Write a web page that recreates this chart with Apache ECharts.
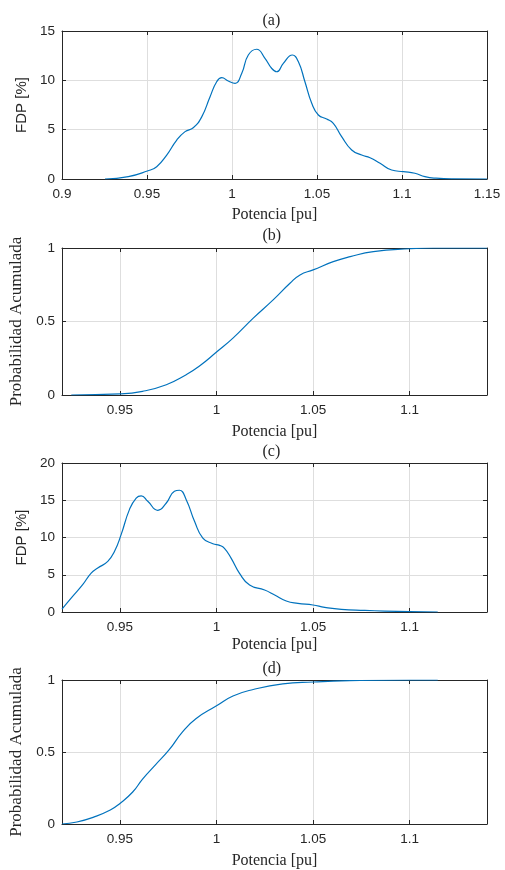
<!DOCTYPE html>
<html>
<head>
<meta charset="utf-8">
<script src="https://cdn.jsdelivr.net/npm/echarts@6/dist/echarts.min.js"></script>
<style>html,body{margin:0;padding:0;background:#fff}#c{width:505px;height:870px}</style>
</head>
<body>
<div id="c"></div>
<script>
// ---- Data ----
const pdfA_x = [0.9253, 0.939, 0.9502, 0.9557, 0.9616, 0.9675, 0.9724, 0.9772, 0.9822, 0.9871, 0.991, 0.994, 0.9978, 1.0018, 1.0057, 1.0096, 1.0145, 1.0194, 1.0234, 1.0263, 1.0302, 1.0355, 1.039, 1.0429, 1.0469, 1.0508, 1.0557, 1.0596, 1.0645, 1.0704, 1.0763, 1.0812, 1.0871, 1.0939, 1.1008, 1.1076, 1.1135, 1.12, 1.13, 1.15];
const pdfA_y = [0, 0.24, 0.81, 1.25, 2.43, 3.95, 4.8, 5.2, 6.3, 8.34, 9.86, 10.27, 9.93, 9.7, 10.7, 12.57, 13.15, 12.23, 11.2, 10.87, 11.72, 12.57, 11.9, 9.86, 7.67, 6.49, 6.08, 5.64, 4.29, 2.94, 2.43, 2.16, 1.59, 0.91, 0.74, 0.58, 0.24, 0.08, 0.01, 0];

const cdfB_x = [0.9248, 0.95, 0.9617, 0.974, 0.9843, 0.991, 1.0, 1.0085, 1.019, 1.0293, 1.038, 1.0432, 1.05, 1.0604, 1.0692, 1.0812, 1.1, 1.112, 1.14];
const cdfB_y = [0, 0.007, 0.025, 0.07, 0.138, 0.195, 0.292, 0.387, 0.523, 0.647, 0.76, 0.817, 0.851, 0.907, 0.941, 0.975, 0.995, 1.0, 1.0];

const pdfC_x = [0.92, 0.9255, 0.9307, 0.9351, 0.9385, 0.9437, 0.9472, 0.9506, 0.9549, 0.9584, 0.961, 0.9644, 0.9696, 0.974, 0.9782, 0.9808, 0.9843, 0.9886, 0.9929, 0.9981, 1.0016, 1.0041, 1.0076, 1.0119, 1.0171, 1.0249, 1.0301, 1.0361, 1.0421, 1.0499, 1.056, 1.0646, 1.0767, 1.087, 1.1, 1.1145];
const pdfC_y = [0.4, 2.1, 3.67, 5.23, 5.9, 6.8, 8.15, 10.38, 13.74, 15.3, 15.6, 14.86, 13.65, 14.63, 16.2, 16.34, 15.08, 12.18, 9.93, 9.17, 8.95, 8.55, 7.2, 5.19, 3.62, 2.95, 2.28, 1.48, 1.16, 0.94, 0.63, 0.36, 0.22, 0.13, 0.05, 0.0];

const cdfD_x = [0.92, 0.9277, 0.9364, 0.945, 0.95, 0.9566, 0.9617, 0.9686, 0.9755, 0.9824, 0.9893, 1.0, 1.0085, 1.019, 1.0343, 1.05, 1.069, 1.1, 1.1145];
const cdfD_y = [0, 0.014, 0.048, 0.097, 0.143, 0.222, 0.312, 0.414, 0.516, 0.64, 0.731, 0.821, 0.889, 0.934, 0.973, 0.986, 0.995, 1.0, 1.0];

const xTicksA = [0.9, 0.95, 1, 1.05, 1.1, 1.15];
const xTicksB = [0.95, 1, 1.05, 1.1];
const yTicksPdfA = [0, 5, 10, 15];
const yTicksPdfC = [0, 5, 10, 15, 20];
const yTicksCdf = [0, 0.5, 1];
const titles = ['(a)', '(b)', '(c)', '(d)'];
const xName = 'Potencia [pu]';
const yNamePdf = 'FDP [%]';
const yNameCdf = 'Probabilidad Acumulada';

// ---- Layout ----
const panels = [
  {top: 31, height: 148, xmin: 0.9, xmax: 1.15, xt: xTicksA, ymin: 0, ymax: 15, yt: yTicksPdfA, yName: yNamePdf, ySerif: false, xs: pdfA_x, ys: pdfA_y, xGap: 28, tOff: 18},
  {top: 248, height: 147, xmin: 0.92, xmax: 1.14, xt: xTicksB, ymin: 0, ymax: 1, yt: yTicksCdf, yName: yNameCdf, ySerif: true, xs: cdfB_x, ys: cdfB_y, xGap: 29, tOff: 20},
  {top: 463, height: 149, xmin: 0.92, xmax: 1.14, xt: xTicksB, ymin: 0, ymax: 20, yt: yTicksPdfC, yName: yNamePdf, ySerif: false, xs: pdfC_x, ys: pdfC_y, xGap: 25, tOff: 19},
  {top: 680, height: 148, xmin: 0.92, xmax: 1.14, xt: xTicksB, ymin: 0, ymax: 1, yt: yTicksCdf, yName: yNameCdf, ySerif: true, xs: cdfD_x, ys: cdfD_y, xGap: 29, tOff: 19}
];

const AX = '#262626';
const GRIDC = '#dedede';
const SANS = 'Liberation Sans, Arial, sans-serif';
const SERIF = 'Liberation Serif, Times New Roman, serif';
const fmt = v => String(+(+v).toFixed(2));

const grid = [], xAxis = [], yAxis = [], series = [], graphic = [];
panels.forEach((p, i) => {
  grid.push({left: 62, right: 18, top: p.top, height: p.height, containLabel: false});
  const baseX = {
    type: 'value', gridIndex: i, min: p.xmin, max: p.xmax,
    axisLine: {show: true, onZero: false, lineStyle: {color: AX, width: 1}},
    axisTick: {show: true, inside: true, length: 4, customValues: p.xt, lineStyle: {color: AX}},
  };
  xAxis.push(Object.assign({}, baseX, {
    position: 'bottom',
    axisLabel: {show: true, customValues: p.xt, formatter: fmt, color: AX, fontFamily: SANS, fontSize: 13.5, margin: 8},
    splitLine: {show: true, lineStyle: {color: GRIDC, width: 1}},
    name: xName, nameLocation: 'middle', nameGap: p.xGap,
    nameTextStyle: {color: AX, fontFamily: SERIF, fontSize: 16}
  }));
  xAxis.push(Object.assign({}, baseX, {
    position: 'top', axisLabel: {show: false}, splitLine: {show: false}
  }));
  const baseY = {
    type: 'value', gridIndex: i, min: p.ymin, max: p.ymax,
    axisLine: {show: true, onZero: false, lineStyle: {color: AX, width: 1}},
    axisTick: {show: true, inside: true, length: 4, customValues: p.yt, lineStyle: {color: AX}},
  };
  yAxis.push(Object.assign({}, baseY, {
    position: 'left',
    axisLabel: {show: true, customValues: p.yt, formatter: fmt, color: AX, fontFamily: SANS, fontSize: 13.5, margin: 7},
    splitLine: {show: true, lineStyle: {color: GRIDC, width: 1}},
    name: p.yName, nameLocation: 'middle', nameRotate: 90,
    nameGap: p.ySerif ? 32 : 27,
    nameTextStyle: {color: AX, fontFamily: p.ySerif ? SERIF : SANS, fontSize: p.ySerif ? 17 : 15}
  }));
  yAxis.push(Object.assign({}, baseY, {
    position: 'right', axisLabel: {show: false}, splitLine: {show: false}
  }));
  series.push({
    type: 'line', xAxisIndex: 2 * i, yAxisIndex: 2 * i,
    data: p.xs.map((x, k) => [x, p.ys[k]]),
    showSymbol: false, symbol: 'none', smooth: 0.5,
    lineStyle: {color: '#0072BD', width: 1.2},
    animation: false
  });
  graphic.push({
    type: 'text', left: 274.5 - 12, top: p.top - p.tOff,
    style: {text: titles[i], font: '16px ' + SERIF, fill: AX, width: 24, align: 'center'}
  });
});

const chart = echarts.init(document.getElementById('c'), null, {renderer: 'canvas'});
chart.setOption({animation: false, grid, xAxis, yAxis, series, graphic});
</script>
</body>
</html>
